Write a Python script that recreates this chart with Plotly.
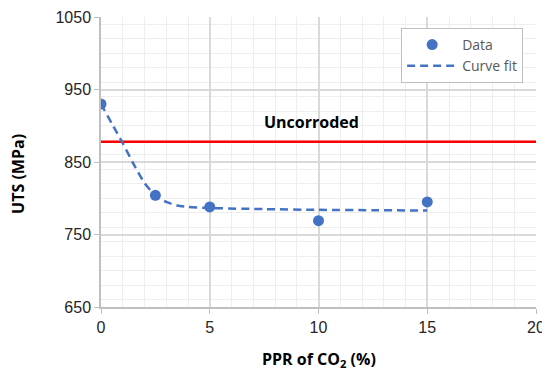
import plotly.graph_objects as go

# Data
ppr_data = [0, 2.5, 5, 10, 15]
uts_data = [930, 804, 788, 769, 795]

fit_x = [0, 0.5, 1, 1.5, 2, 2.5, 3, 3.5, 4, 5, 7.5, 10, 12.5, 15]
fit_y = [930, 903, 876, 847, 821, 804, 795, 790, 788, 786.5, 785, 784, 783.5, 783]

uncorroded_x = [0, 20]
uncorroded_y = [878, 878]

x_ticks = [0, 5, 10, 15, 20]
y_ticks = [650, 750, 850, 950, 1050]

blue = "#4472C4"
title_font = dict(family="Open Sans, Lato, sans-serif", size=16, color="#000000")
tick_font = dict(family="Liberation Sans, Arial, sans-serif", size=16, color="#262626")

fig = go.Figure()

fig.add_trace(go.Scatter(
    x=uncorroded_x, y=uncorroded_y, mode="lines",
    line=dict(color="#FF0000", width=2.5), showlegend=False, hoverinfo="skip",
))
fig.add_trace(go.Scatter(
    x=ppr_data, y=uts_data, mode="markers", name="Data",
    marker=dict(color=blue, size=11),
))
fig.add_trace(go.Scatter(
    x=fit_x, y=fit_y, mode="lines", name="Curve fit",
    line=dict(color=blue, width=2.5, dash="8px,5px", shape="spline", smoothing=0.6),
))

fig.add_annotation(
    x=9.66, y=905, text="<b>Uncorroded</b>", showarrow=False, font=title_font,
)
fig.add_annotation(
    xref="paper", yref="paper", x=0.5, y=0, yshift=-52, yanchor="middle",
    text="<b>PPR of CO<sub>2</sub> (%)</b>", showarrow=False, font=title_font,
)
fig.add_annotation(
    xref="paper", yref="paper", x=0, y=0.459, xshift=-83, xanchor="center",
    text="<b>UTS (MPa)</b>", textangle=-90, showarrow=False, font=title_font,
)

fig.update_xaxes(
    range=[0, 20], tickvals=x_ticks, ticktext=[str(v) for v in x_ticks],
    showgrid=True, gridcolor="#D9D9D9", gridwidth=1.5,
    minor=dict(dtick=1, showgrid=True, gridcolor="#EEEEEE", gridwidth=1),
    showline=True, linecolor="#BFBFBF", linewidth=1.5,
    ticks="outside", ticklen=5, tickcolor="#BFBFBF",
    zeroline=False, automargin=False, tickfont=tick_font,
    ticklabeloverflow="allow",
)
fig.update_yaxes(
    range=[650, 1050], tickvals=y_ticks, ticktext=[str(v) for v in y_ticks],
    showgrid=True, gridcolor="#D9D9D9", gridwidth=1.5,
    minor=dict(dtick=20, showgrid=True, gridcolor="#EEEEEE", gridwidth=1),
    showline=True, linecolor="#BFBFBF", linewidth=1.5,
    ticks="outside", ticklen=5, tickcolor="#BFBFBF",
    zeroline=False, automargin=False, tickfont=tick_font,
    ticklabeloverflow="allow",
)

fig.update_layout(
    width=542, height=373,
    margin=dict(l=93, r=14, t=9, b=74),
    plot_bgcolor="white", paper_bgcolor="white",
    legend=dict(
        x=0.69, y=0.962, xanchor="left", yanchor="top",
        bgcolor="white", bordercolor="#BFBFBF", borderwidth=1,
        font=dict(family="Open Sans, Lato, sans-serif", size=14, color="#595959"),
        itemwidth=50, tracegroupgap=0,
    ),
)

fig.write_html("out.html")
